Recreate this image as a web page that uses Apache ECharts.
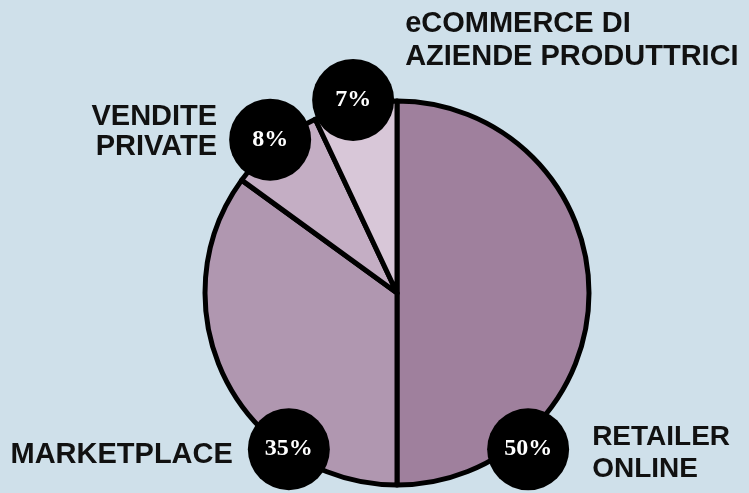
<!DOCTYPE html>
<html>
<head>
<meta charset="utf-8">
<title>Quote e-commerce</title>
<script src="https://cdn.jsdelivr.net/npm/echarts@6/dist/echarts.min.js"></script>
<style>
  html, body { margin: 0; padding: 0; background: #cfe0ea; }
  #chart { width: 749px; height: 493px; }
</style>
</head>
<body>
<div id="chart"></div>
<script>
// dati
var categories = ['RETAILER\nONLINE', 'MARKETPLACE', 'VENDITE\nPRIVATE', 'eCOMMERCE DI\nAZIENDE PRODUTTRICI'];
var shares = [50, 35, 8, 7];
var colors = ['#9f809d', '#b097b0', '#c4aec4', '#d8c7d8'];

// layout
var cx = 397, cy = 293;
// bollini: [angolo (gradi, da ore 12 in senso orario), distanza dal centro]
var badgePos = [[140, 204], [214.7, 190], [320.4, 199], [347.2, 198]];
// scritte rispetto al bollino: [dx, dy, allineamento, interlinea, corpo]
var nameOffset = [
  [64, 4, 'left', 32, 28],
  [-56, 6, 'right', 30, 29],
  [-53, -8, 'right', 30, 29],
  [52, -59, 'left', 33, 29]
];

function badgeXY(i) {
  var a = badgePos[i][0] * Math.PI / 180, r = badgePos[i][1];
  return [cx + r * Math.sin(a), cy - r * Math.cos(a)];
}

var pieData = categories.map(function (c, i) {
  return { name: c, value: shares[i], itemStyle: { color: colors[i] } };
});

var option = {
  backgroundColor: '#cfe0ea',
  animation: false,
  series: [
    {
      type: 'pie',
      center: [cx, cy],
      radius: 192,
      startAngle: 90,
      clockwise: true,
      avoidLabelOverlap: false,
      itemStyle: { borderColor: '#000', borderWidth: 5 },
      label: {
        show: true,
        position: 'inside',
        formatter: function (p) { return p.value + '%'; },
        backgroundColor: '#000',
        width: 82,
        height: 82,
        lineHeight: 82,
        borderRadius: 41,
        align: 'center',
        verticalAlign: 'middle',
        color: '#fff',
        fontFamily: 'Liberation Serif',
        fontWeight: 'bold',
        fontSize: 24
      },
      labelLine: { show: false },
      labelLayout: function (params) {
        var p = badgeXY(params.dataIndex);
        return { x: p[0], y: p[1], align: 'center', verticalAlign: 'middle' };
      },
      data: pieData
    },
    {
      type: 'pie',
      center: [cx, cy],
      radius: 192,
      startAngle: 90,
      silent: true,
      avoidLabelOverlap: false,
      itemStyle: { color: 'transparent', borderWidth: 0 },
      label: {
        show: true,
        position: 'inside',
        formatter: '{b}',
        color: '#111',
        fontFamily: 'Liberation Sans',
        fontWeight: 'bold',
        fontSize: 29,
        lineHeight: 31
      },
      labelLine: { show: false },
      labelLayout: function (params) {
        var i = params.dataIndex, p = badgeXY(i), o = nameOffset[i];
        return { x: p[0] + o[0], y: p[1] + o[1], align: o[2], verticalAlign: 'middle' };
      },
      data: categories.map(function (c, i) {
        return { name: c, value: shares[i], label: { lineHeight: nameOffset[i][3], fontSize: nameOffset[i][4] } };
      })
    }
  ]
};

var myChart = echarts.init(document.getElementById('chart'));
myChart.setOption(option);
</script>
</body>
</html>
